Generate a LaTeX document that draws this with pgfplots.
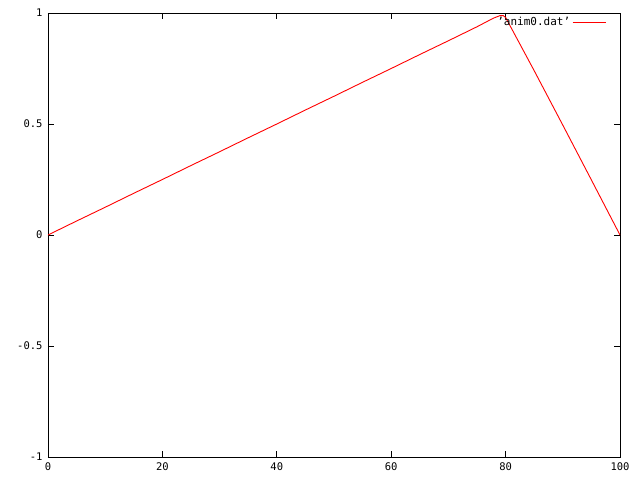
\documentclass[border=0pt]{standalone}
\usepackage{pgfplots}
\pgfplotsset{compat=1.18}
\usepackage{fontspec}
\setmainfont{DejaVu Sans Mono}
\setmonofont{DejaVu Sans Mono}
\begin{document}
\begin{tikzpicture}
\begin{axis}[
  at={(0,0)}, anchor=south west,
  scale only axis, width=572pt, height=444pt,
  xmin=0, xmax=100, ymin=-1, ymax=1,
  xtick={0,20,40,60,80,100},
  ytick={-1,-0.5,0,0.5,1},
  xticklabels={0,20,40,60,80,100},
  yticklabels={-1,-0.5,0,0.5,1},
  tick align=inside,
  major tick length=6pt,
  axis line style={line width=0.9pt},
  every tick/.style={black, line width=0.9pt},
  tick label style={font=\fontsize{10.5}{12}\selectfont},
  xticklabel style={yshift=-2pt},
  yticklabel style={xshift=-2pt},
  legend plot pos=right,
  legend style={draw=none, fill=none, at={(0.976,0.995)}, anchor=north east,
    font=\fontsize{11}{12}\selectfont, row sep=0pt, inner sep=0pt},
  legend image code/.code={\draw[#1, line width=0.9pt] (7pt,0pt) -- (40pt,0pt);},
]
\addplot[red, line width=0.9pt] coordinates {
(0,0) (5,0.063) (10,0.125) (15,0.188) (20,0.25) (25,0.313) (30,0.375) (35,0.438)
(40,0.5) (45,0.563) (50,0.625) (55,0.688) (60,0.75) (65,0.813) (70,0.875)
(75,0.938) (77,0.965) (78,0.978) (79,0.988) (79.6,0.988) (80,0.98)
(85,0.74) (90,0.495) (95,0.248) (100,0)
};
\addlegendentry{'anim0.dat'}
\end{axis}
\pgfresetboundingbox
\useasboundingbox (-48pt,-23pt) rectangle (592pt,457pt);
\end{tikzpicture}
\end{document}
